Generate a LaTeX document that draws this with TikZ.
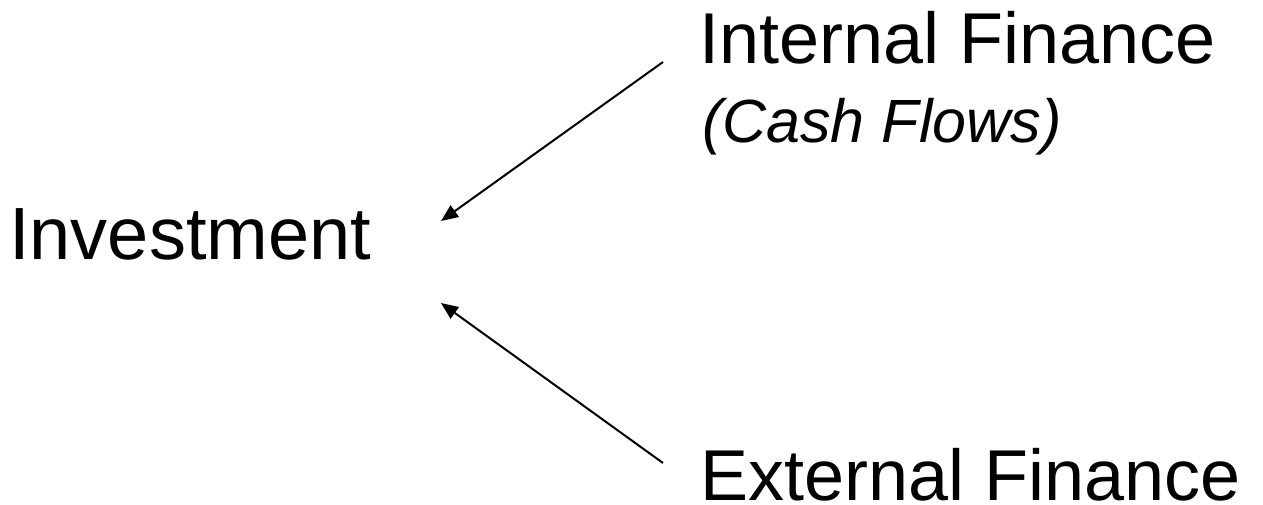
\documentclass[tikz,border=0pt]{standalone}
\usepackage{fontspec}
\setmainfont{Liberation Sans}
\usetikzlibrary{arrows.meta}
\begin{document}
\begin{tikzpicture}[x=1pt,y=-1pt,
  big/.style={inner sep=0pt,anchor=base west,font=\fontsize{72}{86}\selectfont},
  small/.style={inner sep=0pt,anchor=base west,font=\fontsize{61}{73}\selectfont\itshape},
  arr/.style={line width=2pt,-{Triangle[length=17pt,width=14pt]}}]
\useasboundingbox (0,0) rectangle (1263,505);
\node[big,font=\fontsize{74}{88}\selectfont] (inv) at (9,259) {Investment};
\node[big] (int) at (699,64) {Internal Finance};
\node[small] (cash) at (702,143) {(Cash Flows)};
\node[big] (ext) at (700,500) {External Finance};
\coordinate (a1s) at (663,62);
\coordinate (a1e) at (441,221);
\coordinate (a2s) at (663,463);
\coordinate (a2e) at (441,303);
\draw[arr] (a1s) -- (a1e);
\draw[arr] (a2s) -- (a2e);
\end{tikzpicture}
\end{document}
